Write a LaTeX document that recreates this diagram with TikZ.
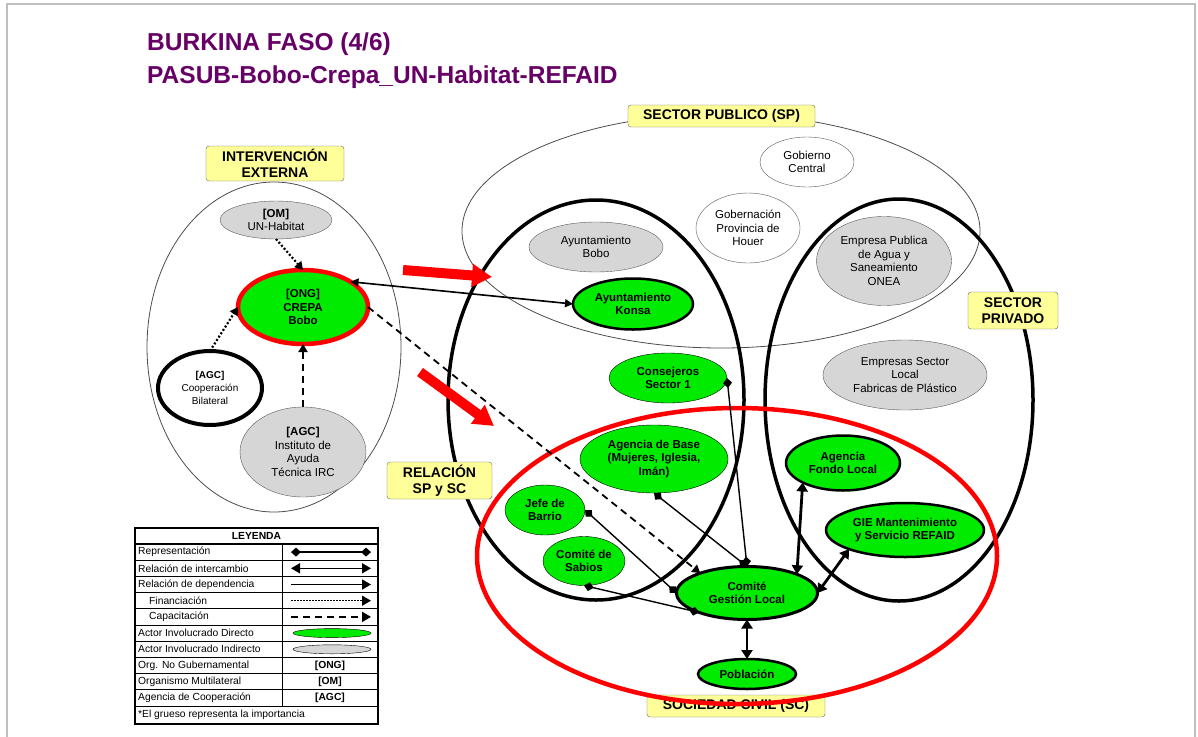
\documentclass[tikz,border=0pt]{standalone}
\usepackage{fontspec}
\setmainfont{Liberation Sans}
\usetikzlibrary{shapes.geometric, arrows.meta, positioning}
\definecolor{actgreen}{RGB}{0,235,0}
\definecolor{actgray}{RGB}{214,214,214}
\definecolor{tagyellow}{RGB}{255,255,153}
\definecolor{titlepurple}{RGB}{102,0,102}
\definecolor{pushred}{RGB}{255,0,0}

\begin{document}
\begin{tikzpicture}[
    x=1pt, y=-1pt,
    actor/.style={ellipse, align=center, inner sep=0pt, outer sep=0pt, font=\fontsize{11.5}{13.5}\selectfont},
    direct/.style={actor, draw=black, fill=actgreen, font=\fontsize{11.5}{13.5}\selectfont\bfseries},
    indirect/.style={actor, draw=black!65, fill=actgray},
    plain/.style={actor, draw=black!65, fill=white},
    zone/.style={ellipse, draw, inner sep=0pt, outer sep=0pt},
    tag/.style={rectangle, rounded corners=3pt, draw=black!60, fill=tagyellow, align=center, inner sep=0pt, font=\fontsize{14}{16.5}\selectfont\bfseries},
    repline/.style={{Diamond[length=10pt,width=9pt]}-{Diamond[length=10pt,width=9pt]}, line width=1.4pt},
    exchline/.style={{Triangle[length=9pt,width=11pt]}-{Triangle[length=9pt,width=11pt]}, line width=2.8pt},
    finline/.style={-{Triangle[length=8pt,width=9pt]}, line width=2.2pt, dash pattern=on 2pt off 2pt},
    capline/.style={-{Triangle[length=8pt,width=9pt]}, line width=1.8pt, dash pattern=on 7pt off 5pt},
    push/.style={-{Triangle[length=20pt,width=22pt]}, line width=10pt, draw=pushred},
    legtext/.style={anchor=west, inner sep=0pt, font=\fontsize{10.3}{12}\selectfont}
]
    \useasboundingbox (0,0) rectangle (1198,736);
    \draw[black!25, line width=2pt] (7,4) rectangle (1195,760);

    % TITLE
    \node[anchor=base west, inner sep=0pt, text=titlepurple, font=\fontsize{24.5}{28}\selectfont\bfseries] (title1) at (147,50) {BURKINA FASO (4/6)};
    \node[anchor=base west, inner sep=0pt, text=titlepurple, font=\fontsize{24.5}{28}\selectfont\bfseries] (title2) at (147,83) {PASUB-Bobo-Crepa\_UN-Habitat-REFAID};

    % ZONES
    \node[zone, draw=black!70, line width=0.8pt, minimum width=254pt, minimum height=330pt] (ext) at (274,347) {};
    \node[zone, draw=black!70, line width=0.8pt, minimum width=518pt, minimum height=234pt] (sp) at (721,231) {};
    \node[zone, line width=3.5pt, minimum width=296pt, minimum height=400pt] (spsc) at (596,400) {};
    \node[zone, line width=3.5pt, minimum width=268pt, minimum height=402pt] (spriv) at (899,400) {};

    % ZONE LABELS
    \node[tag, minimum width=138pt, minimum height=35pt] (tagext) at (275,163.5) {INTERVENCIÓN\\EXTERNA};
    \node[tag, minimum width=187pt, minimum height=22pt] (tagsp) at (721.5,116) {SECTOR PUBLICO (SP)};
    \node[tag, minimum width=90pt, minimum height=37pt] (tagpriv) at (1013,310.5) {SECTOR\\PRIVADO};
    \node[tag, minimum width=105pt, minimum height=37pt] (tagrel) at (439.5,480.5) {RELACIÓN\\SP y SC};
    \node[tag, minimum width=178pt, minimum height=22pt] (tagsc) at (736,706) {SOCIEDAD CIVIL (SC)};

    % SOCIEDAD CIVIL
    \node[zone, draw=pushred, line width=4.5pt, minimum width=520pt, minimum height=296pt] (sc) at (737,556) {};

    % EXTERNAL ACTORS
    \node[indirect, minimum width=112pt, minimum height=38pt] (om) at (276,220) {\textbf{[OM]}\\UN-Habitat};
    \node[direct, draw=pushred, line width=4.5pt, minimum width=130pt, minimum height=74pt] (crepa) at (303,307) {[ONG]\\CREPA\\Bobo};
    \node[plain, draw=black, line width=4pt, minimum width=104pt, minimum height=74pt, font=\fontsize{10}{13}\selectfont] (coop) at (210,388) {\textbf{[AGC]}\\Cooperación\\Bilateral};
    \node[indirect, minimum width=126pt, minimum height=90pt] (irc) at (303,452) {\textbf{[AGC]}\\Instituto de\\Ayuda\\Técnica IRC};

    % PUBLIC SECTOR ACTORS
    \node[plain, minimum width=94pt, minimum height=50pt] (gobc) at (807,162) {Gobierno\\Central};
    \node[plain, minimum width=104pt, minimum height=70pt] (gobp) at (748,228) {Gobernación\\Provincia de\\Houer};
    \node[indirect, minimum width=134pt, minimum height=50pt] (aybobo) at (596,247) {Ayuntamiento\\Bobo};
    \node[direct, line width=2.5pt, minimum width=120pt, minimum height=51pt] (aykonsa) at (633,304) {Ayuntamiento\\Konsa};
    \node[indirect, minimum width=135pt, minimum height=89pt] (onea) at (884,261) {Empresa Publica\\de Agua y\\Saneamiento\\ONEA};

    % PRIVATE SECTOR ACTORS
    \node[indirect, minimum width=164pt, minimum height=70pt] (fab) at (905,375) {Empresas Sector\\Local\\Fabricas de Plástico};

    % CIVIL SOCIETY ACTORS
    \node[direct, minimum width=118pt, minimum height=50pt] (cons) at (668,378) {Consejeros\\Sector 1};
    \node[direct, minimum width=148pt, minimum height=68pt] (abase) at (654,459) {Agencia de Base\\(Mujeres, Iglesia,\\Imán)};
    \node[direct, minimum width=80pt, minimum height=50pt] (jefe) at (545,510) {Jefe de\\Barrio};
    \node[direct, minimum width=82pt, minimum height=49pt] (sabios) at (584,561) {Comité de\\Sabios};
    \node[direct, line width=3pt, minimum width=141pt, minimum height=53pt] (cgl) at (747,593) {Comité\\Gestión Local};
    \node[direct, line width=2.5pt, minimum width=98pt, minimum height=30pt] (pob) at (747,674) {Población};
    \node[direct, line width=2.5pt, minimum width=114pt, minimum height=55pt] (fondo) at (843,463) {Agencia\\Fondo Local};
    \node[direct, line width=2.5pt, minimum width=158pt, minimum height=54pt] (gie) at (905,530) {GIE Mantenimiento\\y Servicio REFAID};

    % RELATIONS
    \draw[finline] (om.south) -- (crepa.north);
    \draw[finline] (coop.north) -- (crepa.west);
    \draw[capline] (irc.north) -- (crepa.south);
    \draw[{Triangle[length=8pt,width=8pt]}-{Triangle[length=8pt,width=8pt]}, line width=1.6pt] (crepa.28) -- (aykonsa.west);
    \draw[capline] (crepa.east) -- (cgl.157);
    \draw[repline] (cons.east) -- (cgl.north);
    \draw[repline] (abase.south) -- (cgl.north);
    \draw[repline] (jefe.east) -- (cgl.west);
    \draw[repline] (sabios.south) -- (cgl.202);
    \draw[exchline] (cgl.south) -- (pob.north);
    \draw[exchline] (cgl.north east) -- (fondo.south west);
    \draw[exchline] (cgl.east) -- (gie.south west);

    % RED POINTERS
    \coordinate (p1s) at (403,270);
    \coordinate (p1e) at (492,277);
    \coordinate (p2s) at (420,372);
    \coordinate (p2e) at (494,426);
    \draw[push] (p1s) -- (p1e);
    \draw[push] (p2s) -- (p2e);

    % LEGEND TABLE
    \fill[white] (135,528) rectangle (378,724);
    \draw[line width=1.2pt] (135,544) -- (378,544);
    \foreach \k in {1,...,10}
        \draw[line width=0.9pt] (135,{544+16.2*\k}) -- (378,{544+16.2*\k});
    \draw[line width=0.9pt] (282,544) -- (282,706);
    \draw[line width=1.8pt] (135,528) rectangle (378,724);
    \node[font=\fontsize{10.3}{12}\selectfont\bfseries, inner sep=0pt] (leghead) at (256.5,536) {LEYENDA};
    \foreach \k/\txt in {0/Representación, 1/Relación de intercambio, 2/Relación de dependencia, 5/Actor Involucrado Directo, 6/Actor Involucrado Indirecto, 7/Org. No Gubernamental, 8/Organismo Multilateral, 9/Agencia de Cooperación}
        \node[legtext] (leg\k) at (138,{552.1+16.2*\k}) {\txt};
    \foreach \k/\txt in {3/Financiación, 4/Capacitación}
        \node[legtext] (leg\k) at (149,{552.1+16.2*\k}) {\txt};
    \node[legtext] (legnote) at (138,715) {*El grueso representa la importancia};
    \draw[repline] (291,552.1) -- (371,552.1);
    \draw[{Triangle[length=9pt,width=10pt]}-{Triangle[length=9pt,width=10pt]}, line width=1.6pt] (291,568.3) -- (371,568.3);
    \draw[-{Triangle[length=9pt,width=10pt]}, line width=1.6pt] (291,584.5) -- (371,584.5);
    \draw[-{Triangle[length=9pt,width=10pt]}, line width=1.4pt, dash pattern=on 1.5pt off 1.5pt] (291,600.7) -- (371,600.7);
    \draw[-{Triangle[length=9pt,width=10pt]}, line width=1.8pt, dash pattern=on 7pt off 5pt] (291,616.9) -- (371,616.9);
    \draw[fill=actgreen] (332,633.1) ellipse (39 and 4.5);
    \draw[fill=actgray] (332,649.3) ellipse (39 and 4.5);
    \foreach \k/\txt in {7/{[ONG]}, 8/{[OM]}, 9/{[AGC]}}
        \node[font=\fontsize{10.3}{12}\selectfont\bfseries, inner sep=0pt] (legc\k) at (330,{552.1+16.2*\k}) {\txt};

\end{tikzpicture}
\end{document}
